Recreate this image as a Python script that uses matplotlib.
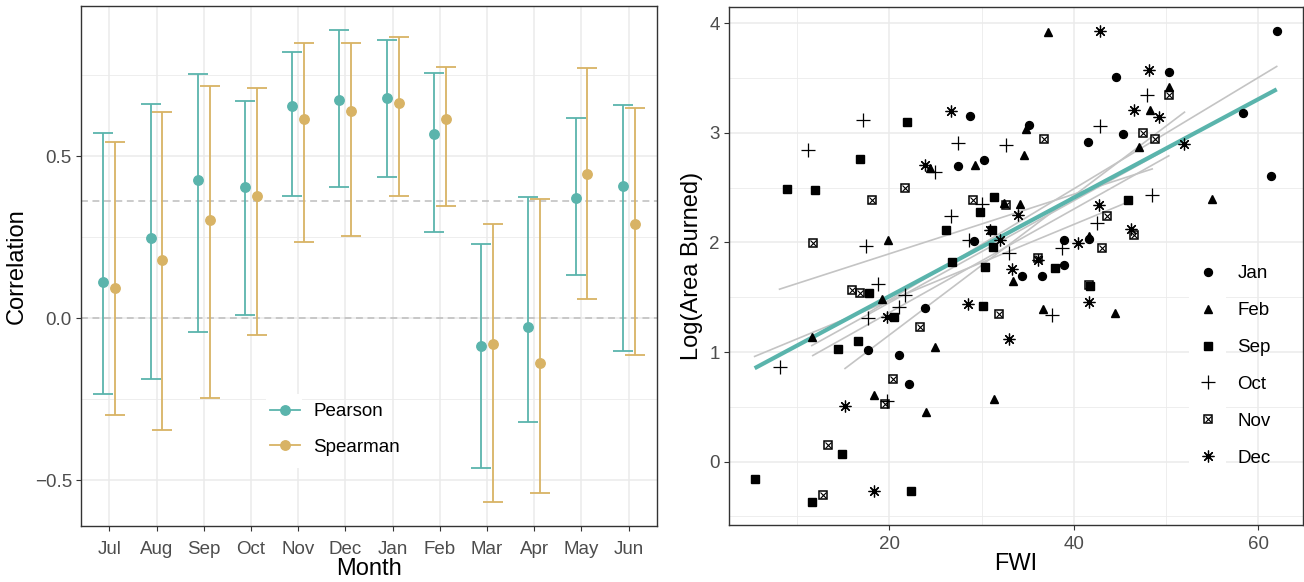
import matplotlib
matplotlib.use("Agg")
import matplotlib.pyplot as plt
from matplotlib.lines import Line2D
from matplotlib.patches import Rectangle
import numpy as np

plt.rcParams['font.family'] = ['Liberation Sans', 'DejaVu Sans']

# ---- left panel data: correlation by month ----
months = ['Jul', 'Aug', 'Sep', 'Oct', 'Nov', 'Dec', 'Jan', 'Feb', 'Mar', 'Apr', 'May', 'Jun']
pearson = np.array([0.112, 0.248, 0.427, 0.403, 0.655, 0.672, 0.678, 0.567, -0.085, -0.029, 0.369, 0.406])
pearson_lo = np.array([-0.234, -0.188, -0.042, 0.010, 0.378, 0.404, 0.436, 0.266, -0.464, -0.320, 0.132, -0.101])
pearson_hi = np.array([0.571, 0.661, 0.753, 0.671, 0.821, 0.889, 0.859, 0.755, 0.229, 0.374, 0.616, 0.658])
spearman = np.array([0.093, 0.179, 0.303, 0.376, 0.614, 0.640, 0.664, 0.614, -0.080, -0.140, 0.444, 0.291])
spearman_lo = np.array([-0.298, -0.344, -0.248, -0.052, 0.234, 0.252, 0.377, 0.345, -0.569, -0.540, 0.060, -0.114])
spearman_hi = np.array([0.544, 0.635, 0.717, 0.709, 0.850, 0.849, 0.868, 0.776, 0.289, 0.366, 0.771, 0.647])
ref_line = 0.360

# ---- right panel data: log(area burned) vs FWI ----
jan_x = [62.0, 44.6, 50.3, 35.1, 41.5, 45.3, 58.3, 61.4, 28.8, 27.5, 30.3, 29.2, 38.9, 41.6, 38.9, 34.4, 36.5, 23.9, 17.7, 21.1, 22.1]
jan_y = [3.93, 3.51, 3.55, 3.07, 2.92, 2.99, 3.18, 2.61, 3.15, 2.70, 2.75, 2.01, 2.02, 2.03, 1.79, 1.69, 1.69, 1.40, 1.02, 0.97, 0.71]
feb_x = [37.2, 50.3, 48.3, 34.8, 34.6, 47.1, 29.3, 19.9, 32.4, 34.2, 55.0, 41.6, 33.4, 36.7, 44.5, 31.3, 19.2, 11.6, 25.0, 18.3, 24.0, 24.4]
feb_y = [3.92, 3.42, 3.21, 3.03, 2.80, 2.87, 2.71, 2.02, 2.36, 2.35, 2.40, 2.06, 1.65, 1.39, 1.36, 0.57, 1.48, 1.14, 1.05, 0.61, 0.45, 2.68]
sep_x = [21.9, 16.8, 8.9, 11.9, 31.3, 29.8, 26.1, 31.2, 26.8, 30.4, 17.8, 45.9, 31.1, 30.2, 20.5, 16.6, 14.4, 14.9, 5.4, 11.6, 22.4, 38.0, 41.8]
sep_y = [3.10, 2.76, 2.49, 2.48, 2.41, 2.28, 2.11, 1.96, 1.82, 1.78, 1.54, 2.39, 2.11, 1.42, 1.32, 1.10, 1.03, 0.07, -0.16, -0.37, -0.27, 1.77, 1.60]
oct_x = [17.1, 11.2, 27.4, 25.0, 26.7, 17.5, 28.6, 30.1, 18.8, 47.9, 42.8, 32.7, 48.5, 42.5, 38.7, 33.0, 37.6, 21.7, 21.0, 17.7, 8.1, 19.7]
oct_y = [3.12, 2.84, 2.91, 2.64, 2.24, 1.97, 2.02, 2.35, 1.62, 3.34, 3.06, 2.89, 2.43, 2.18, 1.95, 1.90, 1.34, 1.52, 1.41, 1.31, 0.86, 0.55]
nov_x = [21.7, 18.1, 11.7, 29.1, 16.0, 16.8, 36.8, 50.3, 47.5, 48.8, 32.7, 43.6, 43.1, 46.5, 36.1, 31.9, 23.3, 20.4, 19.5, 13.4, 12.8, 41.7]
nov_y = [2.50, 2.39, 1.99, 2.39, 1.57, 1.54, 2.94, 3.34, 3.00, 2.94, 2.34, 2.24, 1.95, 2.07, 1.86, 1.35, 1.23, 0.75, 0.53, 0.15, -0.30, 1.61]
dec_x = [26.7, 23.9, 30.9, 42.8, 48.2, 46.5, 49.2, 52.0, 42.7, 34.0, 40.5, 46.2, 32.0, 33.3, 36.1, 41.7, 33.0, 28.5, 19.7, 15.2, 18.3]
dec_y = [3.20, 2.71, 2.11, 3.93, 3.57, 3.21, 3.14, 2.90, 2.34, 2.25, 1.99, 2.12, 2.02, 1.76, 1.84, 1.46, 1.12, 1.44, 1.32, 0.51, -0.27]

teal = '#5AB4AC'
tan = '#D8B365'
grid_c = '#EBEBEB'
tick_c = '#4D4D4D'
W, H = 1304, 582

fig = plt.figure(figsize=(W / 100, H / 100), dpi=100)
ax1 = fig.add_axes([81 / W, 1 - 525.5 / H, 576 / W, 519.2 / H])
ax2 = fig.add_axes([729 / W, 1 - 525 / H, 574 / W, 518.3 / H])


def style(ax, xpad):
    ax.set_axisbelow(True)
    for s in ax.spines.values():
        s.set_color('#333333')
        s.set_linewidth(1.0)
    ax.tick_params(which='major', length=3.5, width=0.8, color='#333333',
                   labelcolor=tick_c, labelsize=13.5, pad=3)
    ax.tick_params(axis='x', which='major', pad=xpad)
    ax.tick_params(which='minor', length=0)
    ax.grid(which='major', color=grid_c, lw=1.1)
    ax.grid(which='minor', color=grid_c, lw=0.6)


# ---- left: error bars ----
xpos = np.arange(1, len(months) + 1)
style(ax1, 7.5)
ax1.axhline(0, color='#BDBDBD', lw=1.1, dashes=(4.5, 3), zorder=1)
ax1.axhline(ref_line, color='#BDBDBD', lw=1.1, dashes=(4.5, 3), zorder=1)
ax1.errorbar(xpos - 0.125, pearson, yerr=[pearson - pearson_lo, pearson_hi - pearson],
             fmt='o', color=teal, ms=6.8, elinewidth=1.3, capsize=7, capthick=1.3, zorder=3)
ax1.errorbar(xpos + 0.125, spearman, yerr=[spearman - spearman_lo, spearman_hi - spearman],
             fmt='o', color=tan, ms=6.8, elinewidth=1.3, capsize=7, capthick=1.3, zorder=3)
ax1.set_xlim(0.4, 12.6)
ax1.set_ylim(-0.640, 0.962)
ax1.set_xticks(xpos)
ax1.set_xticklabels(months)
ax1.set_yticks([-0.5, 0.0, 0.5])
ax1.set_yticks([-0.25, 0.25, 0.75], minor=True)
ax1.xaxis.grid(False, which='minor')
ax1.set_xlabel('Month', fontsize=17, labelpad=0)
ax1.set_ylabel('Correlation', fontsize=17, labelpad=5)

ax1.add_patch(Rectangle((0.321, 0.111), 0.063, 0.142, transform=ax1.transAxes,
                        facecolor='white', edgecolor='none', zorder=1.5))
h1 = [Line2D([], [], color=teal, marker='o', ms=6.8, lw=1.3),
      Line2D([], [], color=tan, marker='o', ms=6.8, lw=1.3)]
leg1 = ax1.legend(h1, ['Pearson', 'Spearman'], loc='upper left', bbox_to_anchor=(0.328, 0.236),
                  frameon=False, fontsize=13.5, handlelength=1.6, handletextpad=0.7,
                  labelspacing=1.0, borderpad=0, borderaxespad=0)

# ---- right: scatter ----
style(ax2, 4.5)
groups = [
    ('Jan', jan_x, jan_y, dict(marker='o', ms=5.7)),
    ('Feb', feb_x, feb_y, dict(marker='^', ms=6.4)),
    ('Sep', sep_x, sep_y, dict(marker='s', ms=5.8)),
    ('Oct', oct_x, oct_y, dict(marker='+', ms=9.5, mew=0.9)),
    ('Nov', nov_x, nov_y, None),
    ('Dec', dec_x, dec_y, dict(marker=(8, 2, 0), ms=8.5, mew=0.9)),
]

all_x = np.concatenate([g[1] for g in groups])
all_y = np.concatenate([g[2] for g in groups])

# per-month linear fits (grey) and overall fit (teal)
for name, gx, gy, _ in groups:
    gx = np.asarray(gx)
    b, a = np.polyfit(gx, gy, 1)
    xs = np.array([gx.min(), gx.max()])
    ax2.plot(xs, a + b * xs, color='#C4C4C4', lw=1.2, zorder=2)
b, a = np.polyfit(all_x, all_y, 1)
xs = np.array([all_x.min(), all_x.max()])
ax2.plot(xs, a + b * xs, color=teal, lw=3.0, zorder=2.5, solid_capstyle='butt')

handles = []
for name, gx, gy, kw in groups:
    if kw is None:
        sq = ax2.plot(gx, gy, ls='none', marker='s', ms=6.0, mfc='none', mec='black', mew=1.1, zorder=3)[0]
        xx = ax2.plot(gx, gy, ls='none', marker='x', ms=3.8, color='black', mew=0.8, zorder=3)[0]
        handles.append((sq, xx))
    else:
        ln = ax2.plot(gx, gy, ls='none', color='black', zorder=3, **kw)[0]
        handles.append(ln)

ax2.set_xlim(2.62, 64.85)
ax2.set_ylim(-0.578, 4.15)
ax2.set_xticks([20, 40, 60])
ax2.set_xticks([10, 30, 50], minor=True)
ax2.set_yticks([0, 1, 2, 3, 4])
ax2.set_yticks([-0.5, 0.5, 1.5, 2.5, 3.5], minor=True)
ax2.set_xlabel('FWI', fontsize=17, labelpad=0)
ax2.set_ylabel('Log(Area Burned)', fontsize=17, labelpad=5)

ax2.add_patch(Rectangle((0.801, 0.098), 0.065, 0.427, transform=ax2.transAxes,
                        facecolor='white', edgecolor='none', zorder=1.5))
leg2 = ax2.legend(handles, [g[0] for g in groups], loc='upper left', bbox_to_anchor=(0.801, 0.501),
                  frameon=False, fontsize=13.5, handlelength=2.0, handletextpad=0.6,
                  labelspacing=1.05, borderpad=0, borderaxespad=0, numpoints=1)

fig.savefig('out.png', dpi=100)
